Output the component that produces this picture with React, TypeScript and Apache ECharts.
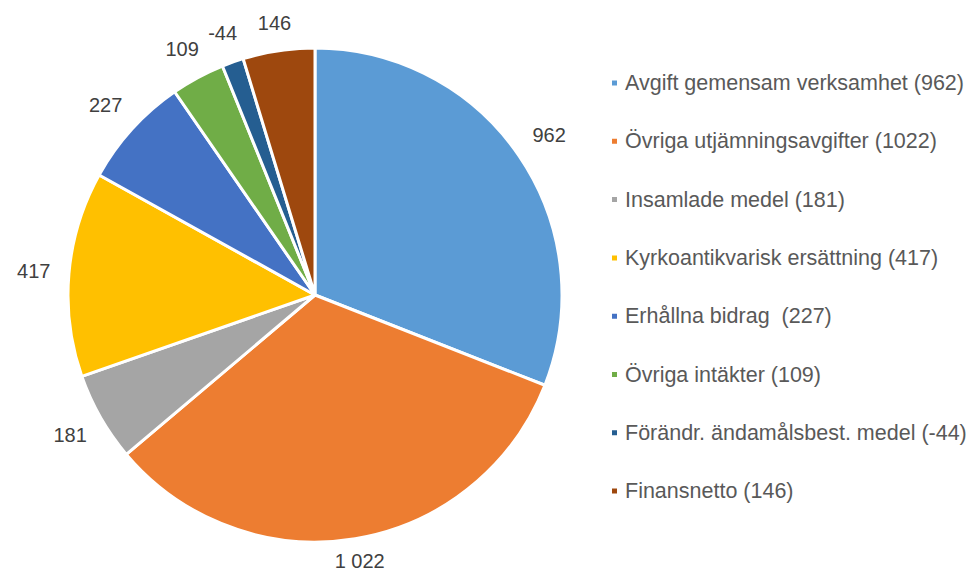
import React, { useEffect, useRef } from "react";
import * as echarts from "echarts";

const categories = [
  "Avgift gemensam verksamhet",
  "Övriga utjämningsavgifter",
  "Insamlade medel",
  "Kyrkoantikvarisk ersättning",
  "Erhållna bidrag ",
  "Övriga intäkter",
  "Förändr. ändamålsbest. medel",
  "Finansnetto",
];
const values = [962, 1022, 181, 417, 227, 109, -44, 146];
const colors = [
  "#5B9BD5",
  "#ED7D31",
  "#A5A5A5",
  "#FFC000",
  "#4472C4",
  "#70AD47",
  "#255E91",
  "#9E480E",
];

const fmt = (v: number) => {
  const s = String(Math.abs(v));
  const grouped = s.replace(/\B(?=(\d{3})+(?!\d))/g, " ");
  return (v < 0 ? "-" : "") + grouped;
};

const GAP = 18;
const HALF_H_UP = 8;
const HALF_H_DOWN = 5;
const CHART_H = 574;

export default function App() {
  const ref = useRef<HTMLDivElement>(null);
  useEffect(() => {
    if (!ref.current) return;
    const chart = echarts.init(ref.current, null, { renderer: "svg" });
    const data = categories.map((c, i) => ({
      name: c,
      value: Math.abs(values[i]),
      raw: values[i],
      itemStyle: { color: colors[i] },
    }));
    chart.setOption({
      animation: false,
      legend: {
        orient: "vertical",
        left: 605,
        top: 66,
        itemWidth: 7,
        itemHeight: 7,
        itemGap: 34.3,
        icon: "rect",
        selectedMode: false,
        formatter: (name: string) => {
          const i = categories.indexOf(name);
          return `${name} (${values[i]})`;
        },
        textStyle: {
          fontFamily: "Liberation Sans, Arial, sans-serif",
          fontSize: 21.5,
          lineHeight: 24,
          color: "#595959",
          padding: [0, 0, 0, 2],
        },
        data: categories,
      },
      series: [
        {
          type: "pie",
          center: [315, 295],
          radius: 247,
          startAngle: 90,
          clockwise: true,
          avoidLabelOverlap: false,
          data,
          itemStyle: { borderColor: "#ffffff", borderWidth: 3 },
          emphasis: { disabled: true },
          label: {
            show: true,
            position: "outside",
            formatter: (p: any) => fmt(p.data.raw),
            fontFamily: "Liberation Sans, Arial, sans-serif",
            fontSize: 20,
            lineHeight: 16,
            color: "#404040",
          },
          labelLine: {
            show: true,
            length: 10,
            length2: 0,
            lineStyle: { opacity: 0, width: 0 },
          },
          labelLayout: (params: any) => {
            const pts = params.labelLinePoints;
            if (!pts || pts.length < 2) return {};
            const [x0, y0] = pts[0];
            const [x1, y1] = pts[1];
            let ux = x1 - x0;
            let uy = y1 - y0;
            const len = Math.hypot(ux, uy) || 1;
            ux /= len;
            uy /= len;
            const w = params.labelRect.width;
            const halfH = uy < 0 ? HALF_H_UP : HALF_H_DOWN;
            const ext = (Math.abs(ux) * w) / 2 + Math.abs(uy) * halfH;
            const d = GAP + ext;
            const y = Math.min(y0 + uy * d, CHART_H - 13);
            return {
              x: x0 + ux * d,
              y,
              align: "center",
              verticalAlign: "middle",
            };
          },
        },
      ],
    });
    return () => chart.dispose();
  }, []);
  return (
    <div
      ref={ref}
      style={{ position: "fixed", left: 0, top: 0, width: 968, height: 574, background: "#fff" }}
    />
  );
}
